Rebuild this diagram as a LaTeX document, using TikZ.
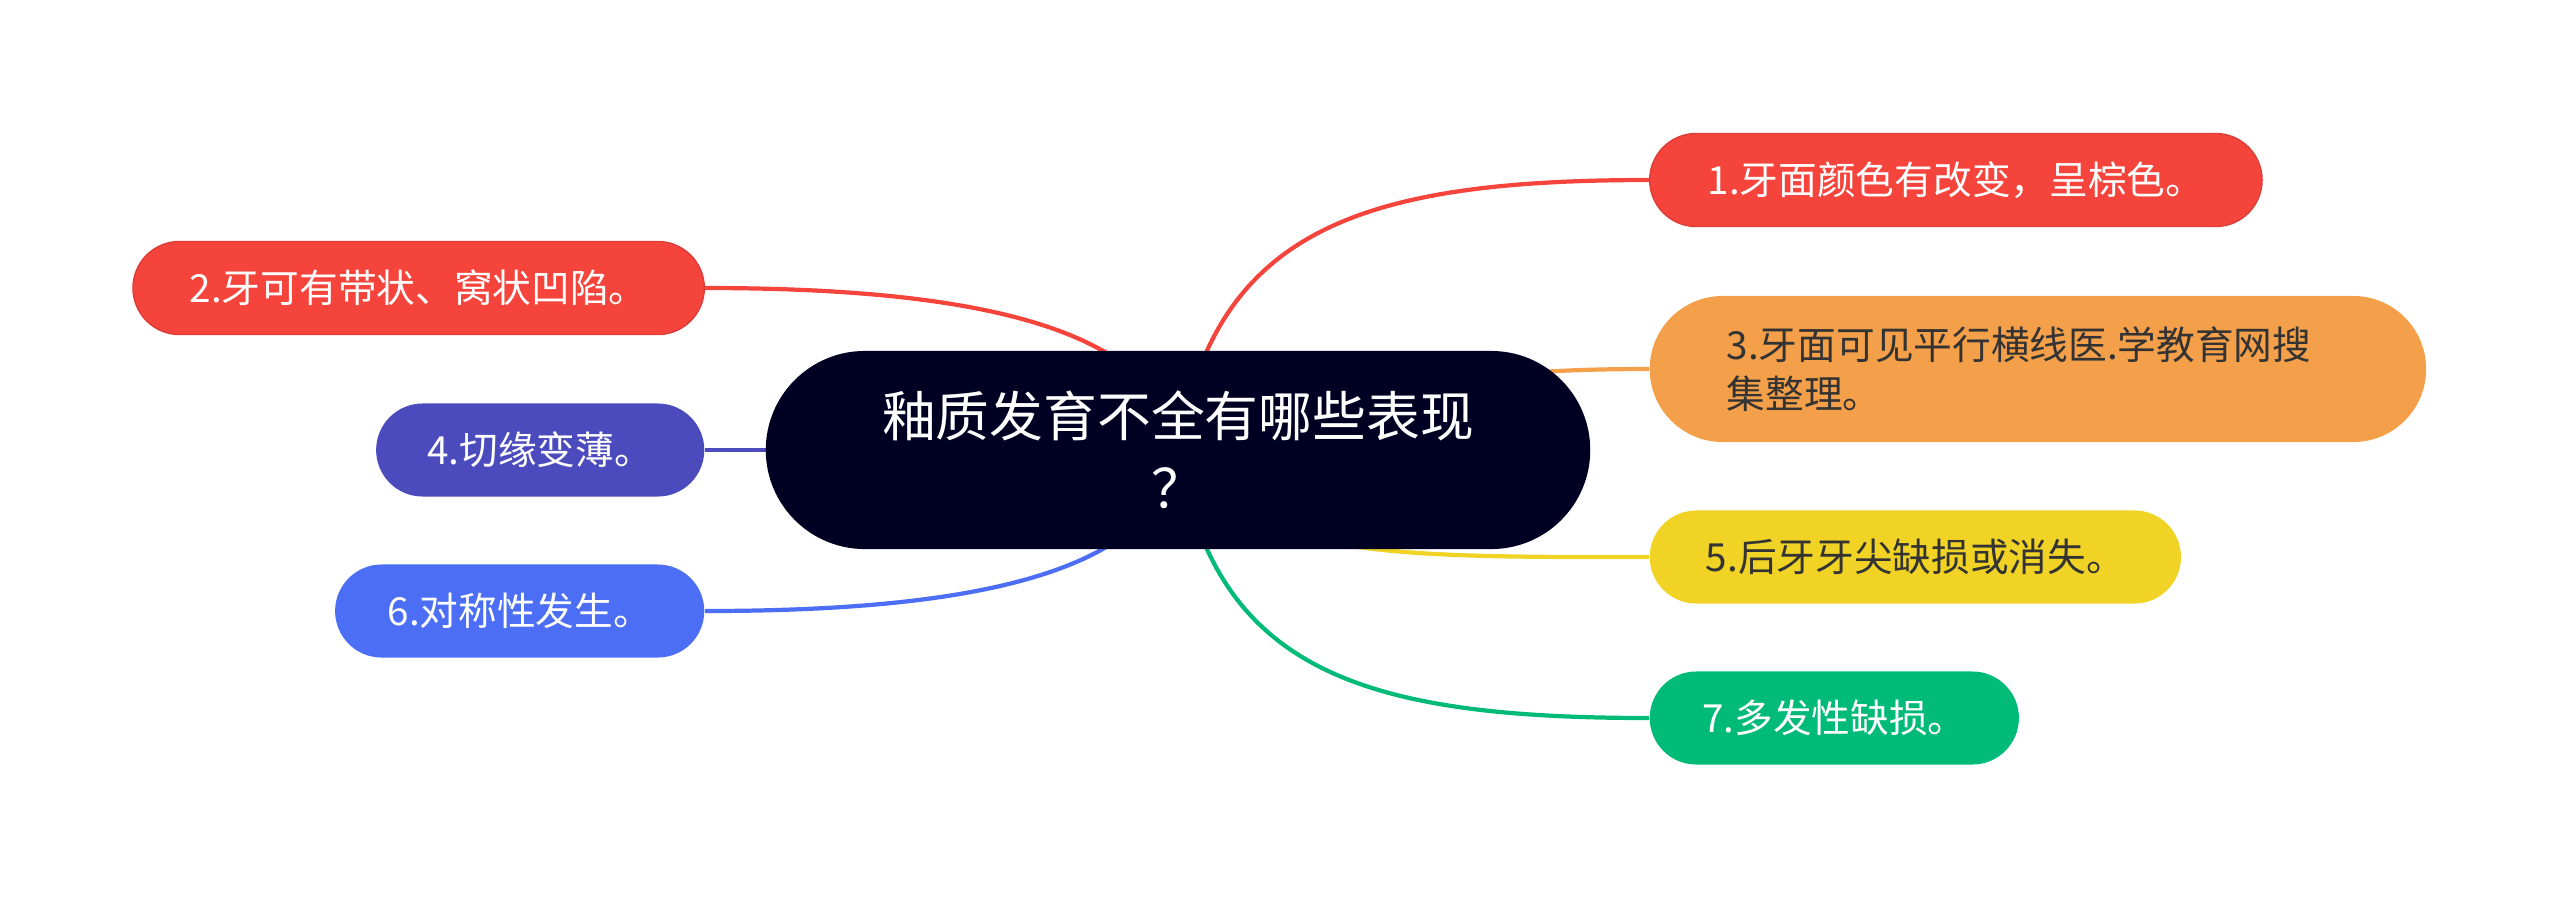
\documentclass[tikz,border=0pt]{standalone}
\usepackage{fontspec}
\newfontfamily\cjk{Noto Sans CJK SC}
\definecolor{cred}{HTML}{F5443C}
\definecolor{corange}{HTML}{F4A04B}
\definecolor{cyellow}{HTML}{F0D324}
\definecolor{cgreen}{HTML}{00BB77}
\definecolor{cpurple}{HTML}{4B4BBE}
\definecolor{cblue}{HTML}{4B6EF5}
\definecolor{croot}{HTML}{000023}
\definecolor{cdark}{HTML}{333333}

\begin{document}
\begin{tikzpicture}[x=0.01cm,y=-0.01cm,
    leaf/.style={rounded corners=0.465cm, minimum height=0.93cm, inner sep=0pt,
      font=\cjk\fontsize{11pt}{14pt}\selectfont, text=white},
    link/.style={line width=1.2pt}]
    \useasboundingbox (0,0) rectangle (2560,902);

    % connectors first, the nodes cover their ends
    \coordinate (c) at (1178,450);
    \coordinate (oneIn) at (1649,180);
    \coordinate (twoIn) at (705,288);
    \coordinate (threeIn) at (1649,369);
    \coordinate (fourIn) at (705,450);
    \coordinate (fiveIn) at (1649,557);
    \coordinate (sixIn) at (705,611);
    \coordinate (sevenIn) at (1649,718);

    \draw[link,cred] (c) .. controls (1215,230) and (1360,180) .. (oneIn);
    \draw[link,cred] (c) .. controls (1160,320) and (950,288) .. (twoIn);
    \draw[link,corange] (c) .. controls (1400,380) and (1500,369) .. (threeIn);
    \draw[link,cpurple] (c) -- (fourIn);
    \draw[link,cyellow] (c) .. controls (1240,560) and (1400,557) .. (fiveIn);
    \draw[link,cblue] (c) .. controls (1160,580) and (950,611) .. (sixIn);
    \draw[link,cgreen] (c) .. controls (1215,670) and (1360,718) .. (sevenIn);

    % central topic
    \node[fill=croot, rounded corners=0.99cm, minimum width=8.24cm, minimum height=1.98cm,
      inner sep=0pt, align=center, text=white,
      font=\cjk\fontsize{15.3pt}{20.5pt}\selectfont] (topic) at (c) {釉质发育不全有哪些表现\\？};

    % branches
    \node[leaf, fill=cred, draw=cred!90!black, minimum width=6.12cm, anchor=west] (one) at (oneIn) {1.牙面颜色有改变，呈棕色。};
    \node[leaf, fill=cred, draw=cred!90!black, minimum width=5.71cm, anchor=east] (two) at (twoIn) {2.牙可有带状、窝状凹陷。};
    \node[leaf, fill=corange, minimum width=7.76cm, minimum height=1.46cm, rounded corners=0.73cm,
      text width=6.22cm, align=left, text=cdark, anchor=west] (three) at (threeIn) {3.牙面可见平行横线医.学教育网搜\\集整理。};
    \node[leaf, fill=cpurple, minimum width=3.28cm, anchor=east] (four) at (fourIn) {4.切缘变薄。};
    \node[leaf, fill=cyellow, text=cdark, minimum width=5.31cm, anchor=west] (five) at (fiveIn) {5.后牙牙尖缺损或消失。};
    \node[leaf, fill=cblue, minimum width=3.69cm, anchor=east] (six) at (sixIn) {6.对称性发生。};
    \node[leaf, fill=cgreen, minimum width=3.69cm, anchor=west] (seven) at (sevenIn) {7.多发性缺损。};
\end{tikzpicture}
\end{document}
